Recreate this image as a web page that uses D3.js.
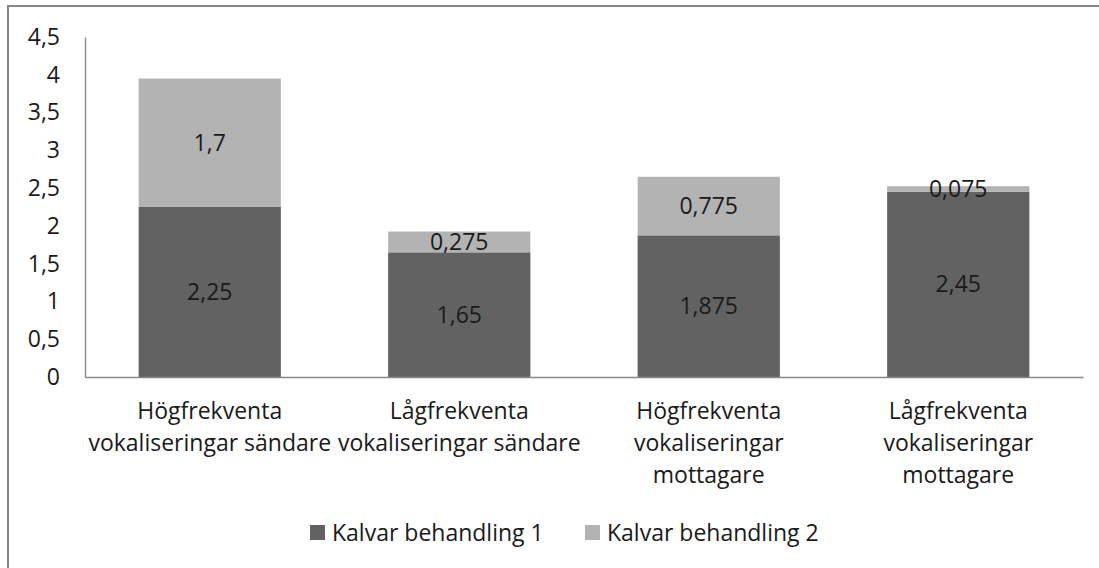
<!DOCTYPE html>
<html>
<head>
<meta charset="utf-8">
<script src="https://cdn.jsdelivr.net/npm/d3@7"></script>
<style>
  html, body { margin: 0; padding: 0; background: #fff; }
  svg { display: block; }
  text { font-family: "Open Sans", sans-serif; fill: #1a1a1a; }
</style>
</head>
<body>
<svg id="chart" width="1099" height="568"></svg>
<script>
const categories = [
  ["Högfrekventa", "vokaliseringar sändare"],
  ["Lågfrekventa", "vokaliseringar sändare"],
  ["Högfrekventa", "vokaliseringar", "mottagare"],
  ["Lågfrekventa", "vokaliseringar", "mottagare"]
];
const seriesNames = ["Kalvar behandling 1", "Kalvar behandling 2"];
const series1 = [2.25, 1.65, 1.875, 2.45];
const series2 = [1.7, 0.275, 0.775, 0.075];
const yTicks = [0, 0.5, 1, 1.5, 2, 2.5, 3, 3.5, 4, 4.5];
const colors = ["#626262", "#b3b3b3"];

const svg = d3.select("#chart");
const fmt = v => String(v).replace(".", ",");
const FS = 23;
const FONT = "'Open Sans', sans-serif";

// outer border
svg.append("rect").attr("x", 8).attr("y", 6).attr("width", 1200).attr("height", 700)
  .attr("fill", "none").attr("stroke", "#868686").attr("stroke-width", 2);

const plotLeft = 85, plotRight = 1083, plotTop = 37, plotBottom = 377;
const ids = categories.map((c, i) => i);
const x = d3.scaleBand().domain(ids).range([plotLeft, plotRight]).paddingInner(0.43).paddingOuter(0.215);
const y = d3.scaleLinear().domain([0, 4.5]).range([plotBottom, plotTop]);

const stackData = ids.map(i => ({ i, s0: series1[i], s1: series2[i] }));
const stacked = d3.stack().keys(["s0", "s1"])(stackData);

const g = svg.append("g");
stacked.forEach((layer, k) => {
  g.selectAll(null).data(layer).enter().append("rect")
    .attr("x", d => x(d.data.i))
    .attr("width", x.bandwidth())
    .attr("y", d => y(d[1]))
    .attr("height", d => y(d[0]) - y(d[1]))
    .attr("fill", colors[k]);
});
// data labels
stacked.forEach((layer, k) => {
  g.selectAll(null).data(layer).enter().append("text")
    .attr("x", d => x(d.data.i) + x.bandwidth() / 2)
    .attr("y", d => y((d[0] + d[1]) / 2))
    .attr("dy", "0.35em")
    .attr("text-anchor", "middle")
    .style("font-size", FS + "px")
    .text(d => fmt(+(d[1] - d[0]).toFixed(3)));
});

// y axis
const yAxis = d3.axisLeft(y).tickValues(yTicks).tickSize(0).tickPadding(25).tickFormat(fmt);
const ya = svg.append("g").attr("transform", `translate(${plotLeft},0)`).call(yAxis);
ya.select(".domain").attr("stroke", "#868686").attr("stroke-width", 1.3);
ya.selectAll("text").style("font-size", FS + "px").style("font-family", FONT).attr("fill", "#1a1a1a");

// x axis
const xAxis = d3.axisBottom(x).tickSize(0).tickFormat("");
const xa = svg.append("g").attr("transform", `translate(0,${plotBottom})`).call(xAxis);
xa.select(".domain").attr("stroke", "#868686").attr("stroke-width", 1.3);

// category labels
ids.forEach(i => {
  const t = svg.append("text")
    .attr("x", x(i) + x.bandwidth() / 2)
    .attr("y", 419)
    .attr("text-anchor", "middle")
    .style("font-size", FS + "px");
  categories[i].forEach((line, j) => {
    t.append("tspan").attr("x", x(i) + x.bandwidth() / 2).attr("y", 419 + j * 32).text(line);
  });
});

// legend
const legendX = [310, 585];
seriesNames.forEach((name, k) => {
  svg.append("rect").attr("x", legendX[k]).attr("y", 525).attr("width", 15).attr("height", 15).attr("fill", colors[k]);
  svg.append("text").attr("x", legendX[k] + 22).attr("y", 541)
    .style("font-size", FS + "px").text(name);
});
</script>
</body>
</html>
